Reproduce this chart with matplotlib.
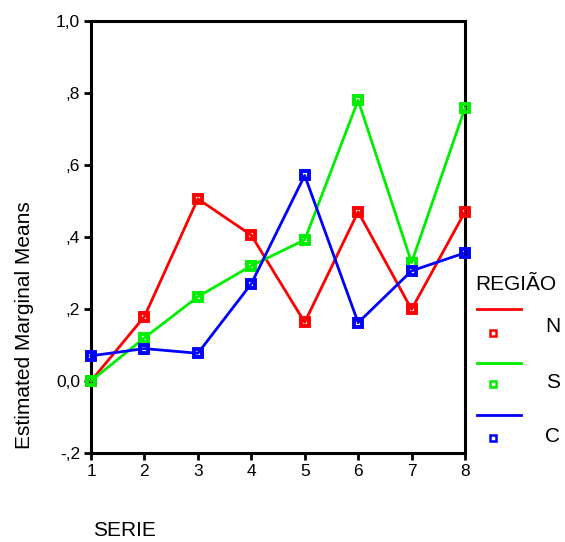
import matplotlib.pyplot as plt
from matplotlib.lines import Line2D

plt.rcParams['font.family'] = ['Liberation Sans', 'DejaVu Sans']

serie = [1, 2, 3, 4, 5, 6, 7, 8]
regions = ['N', 'S', 'C']
colors = ['#ff0000', '#00ee00', '#0000ff']
means_n = [0.000, 0.179, 0.506, 0.405, 0.163, 0.470, 0.199, 0.470]
means_s = [0.000, 0.120, 0.234, 0.320, 0.392, 0.780, 0.329, 0.758]
means_c = [0.070, 0.090, 0.077, 0.270, 0.571, 0.162, 0.306, 0.356]
y_ticks = [-0.2, 0.0, 0.2, 0.4, 0.6, 0.8, 1.0]
y_tick_labels = ['-,2', '0,0', ',2', ',4', ',6', ',8', '1,0']

W, H = 565, 542
fig = plt.figure(figsize=(W / 100, H / 100), dpi=100)
ax = fig.add_axes([91 / W, 1 - 453 / H, (465 - 91) / W, (453 - 21) / H])

for vals, col in zip([means_n, means_s, means_c], colors):
    ax.plot(serie, vals, color=col, lw=2, marker='s', ms=6,
            mfc='none', mec=col, mew=2.8, clip_on=False, zorder=3)

ax.set_xlim(1, 8)
ax.set_ylim(-0.2, 1.0)
ax.set_xticks(serie)
ax.set_yticks(y_ticks)
ax.set_yticklabels(y_tick_labels)
ax.tick_params(axis='both', direction='out', length=5, width=2,
               labelsize=12.5, pad=3)
for s in ax.spines.values():
    s.set_linewidth(2.2)

fig.text(25 / W, 1 - 325 / H, 'Estimated Marginal Means', rotation=90,
         ha='center', va='center', fontsize=15)
fig.text(93 / W, 1 - 530 / H, 'SERIE', ha='left', va='center', fontsize=15)

# legend drawn by hand, SPSS style: line on one row, marker below
fig.text(475 / W, 1 - 284 / H, 'REGIÃO', ha='left', va='center', fontsize=15)
leg_rows = [(309, 333, 327), (363, 384, 382), (415, 438, 437)]
for (ly, my, ty), col, lab in zip(leg_rows, colors, regions):
    fig.add_artist(Line2D([477 / W, 521 / W], [1 - ly / H, 1 - ly / H],
                          color=col, lw=2))
    fig.add_artist(Line2D([493 / W], [1 - my / H], marker='s', ms=4,
                          mfc='none', mec=col, mew=1.8, lw=0))
    fig.text(553 / W, 1 - ty / H, lab, ha='center', va='center', fontsize=15)

fig.savefig('out.png', dpi=100)
